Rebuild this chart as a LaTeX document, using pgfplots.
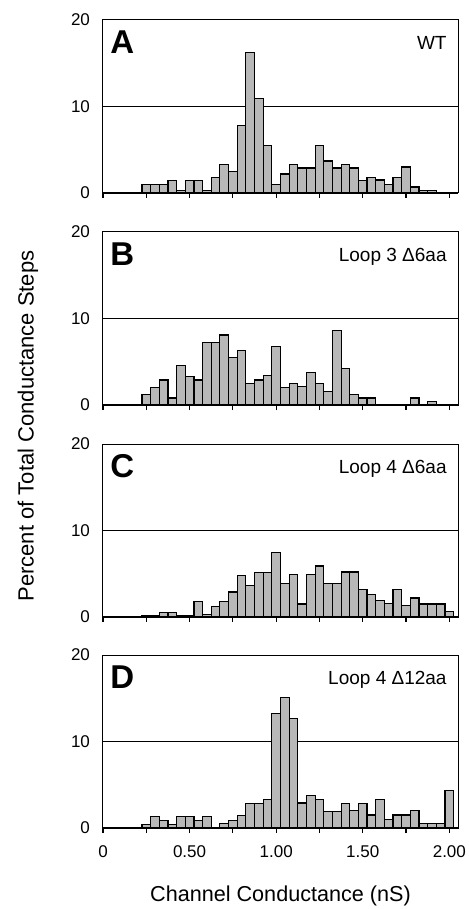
\documentclass[border=0pt]{standalone}
\usepackage{fontspec}
\setmainfont{Liberation Sans}
\usepackage{pgfplots}
\pgfplotsset{compat=1.18}

\definecolor{barfill}{gray}{0.72}

\pgfplotsset{
  panel/.style={
    scale only axis,
    width=177.5pt, height=86.5pt,
    xmin=0, xmax=2.05, ymin=0, ymax=20,
    xtick={0,0.25,...,2.0},
    ytick={0,10,20},
    yticklabels={0,10,20},
    xticklabels={},
    xtick pos=bottom, ytick pos=left,
    x tick style={black, line width=0.6pt},
    xtick align=outside,
    major tick length=2.5pt,
    y tick style={draw=none},
    ymajorgrids,
    grid style={black, line width=0.5pt},
    axis line style={line width=0.5pt},
    tick label style={font=\fontsize{8.5}{10}\selectfont},
    yticklabel style={xshift=-3pt},
    clip=false,
  },
  bars/.style={ybar, bar width=0.05, draw=black, line width=0.6pt, fill=barfill},
  base/.style={black, line width=1.1pt, sharp plot, forget plot},
}

\newcommand{\letter}[1]{\node[anchor=north west, inner sep=0pt, font=\bfseries\fontsize{16.5}{18}\selectfont] at ([xshift=3.5pt, yshift=-5pt]rel axis cs:0,1) {#1};}
\newcommand{\tag}[1]{\node[anchor=north east, inner sep=0pt, font=\fontsize{9.5}{11}\selectfont] at ([xshift=-5.5pt, yshift=-8pt]rel axis cs:1,1) {#1};}

\begin{document}
\begin{tikzpicture}
\path[use as bounding box] (-51.5pt,10pt) rectangle (183pt,-444.5pt);

% A
\begin{axis}[panel, at={(0,0)}, anchor=north west]
\addplot[bars] coordinates {
(0.25,1.0) (0.30,1.0) (0.35,1.0) (0.40,1.4) (0.45,0.3) (0.50,1.4) (0.55,1.4) (0.60,0.3)
(0.65,1.8) (0.70,3.3) (0.75,2.5) (0.80,7.8) (0.85,16.2) (0.90,10.9) (0.95,5.5) (1.00,1.0)
(1.05,2.2) (1.10,3.3) (1.15,2.9) (1.20,2.9) (1.25,5.5) (1.30,3.7) (1.35,2.9) (1.40,3.3)
(1.45,2.9) (1.50,1.4) (1.55,1.8) (1.60,1.5) (1.65,1.0) (1.70,1.8) (1.75,3.0) (1.80,0.7)
(1.85,0.3) (1.90,0.3)};
\addplot[base] coordinates {(0,0) (2.05,0)};
\letter{A}
\tag{WT}
\end{axis}

% B
\begin{axis}[panel, at={(0,-106pt)}, anchor=north west]
\addplot[bars] coordinates {
(0.25,1.2) (0.30,2.0) (0.35,2.9) (0.40,0.8) (0.45,4.6) (0.50,3.3) (0.55,2.9) (0.60,7.2)
(0.65,7.2) (0.70,8.1) (0.75,5.5) (0.80,6.3) (0.85,2.5) (0.90,2.9) (0.95,3.4) (1.00,6.8)
(1.05,2.0) (1.10,2.5) (1.15,2.1) (1.20,3.8) (1.25,2.5) (1.30,1.6) (1.35,8.6) (1.40,4.2)
(1.45,1.2) (1.50,0.8) (1.55,0.8) (1.80,0.8) (1.90,0.4)};
\addplot[base] coordinates {(0,0) (2.05,0)};
\letter{B}
\tag{Loop 3 Δ6aa}
\end{axis}

% C
\begin{axis}[panel, at={(0,-212pt)}, anchor=north west]
\addplot[bars] coordinates {
(0.25,0.2) (0.30,0.2) (0.35,0.5) (0.40,0.5) (0.45,0.2) (0.50,0.2) (0.55,1.8) (0.60,0.3)
(0.65,1.2) (0.70,1.8) (0.75,2.9) (0.80,4.8) (0.85,3.6) (0.90,5.1) (0.95,5.1) (1.00,7.5)
(1.05,3.9) (1.10,4.9) (1.15,1.5) (1.20,4.9) (1.25,5.9) (1.30,3.9) (1.35,3.9) (1.40,5.2)
(1.45,5.2) (1.50,3.2) (1.55,2.6) (1.60,1.9) (1.65,1.6) (1.70,3.2) (1.75,1.3) (1.80,2.2)
(1.85,1.5) (1.90,1.5) (1.95,1.5) (2.00,0.6)};
\addplot[base] coordinates {(0,0) (2.05,0)};
\letter{C}
\tag{Loop 4 Δ6aa}
\end{axis}

% D
\begin{axis}[panel, at={(0,-317.5pt)}, anchor=north west,
  xticklabels={0,,0.50,,1.00,,1.50,,2.00},
  xticklabel style={yshift=-3pt},
  xlabel={Channel Conductance (nS)},
  xlabel style={font=\fontsize{10.8}{13}\selectfont, yshift=-7pt}]
\addplot[bars] coordinates {
(0.25,0.4) (0.30,1.3) (0.35,0.9) (0.40,0.4) (0.45,1.3) (0.50,1.3) (0.55,0.9) (0.60,1.3)
(0.70,0.5) (0.75,0.9) (0.80,1.4) (0.85,2.8) (0.90,2.8) (0.95,3.3) (1.00,13.2) (1.05,15.1)
(1.10,12.7) (1.15,2.9) (1.20,3.8) (1.25,3.3) (1.30,1.9) (1.35,1.9) (1.40,2.8) (1.45,2.0)
(1.50,2.8) (1.55,1.5) (1.60,3.3) (1.65,1.0) (1.70,1.5) (1.75,1.5) (1.80,2.0) (1.85,0.5)
(1.90,0.5) (1.95,0.5) (2.00,4.3)};
\addplot[base] coordinates {(0,0) (2.05,0)};
\letter{D}
\tag{Loop 4 Δ12aa}
\end{axis}

\node[rotate=90, font=\fontsize{11}{13}\selectfont] at (-37.5pt,-203pt) {Percent of Total Conductance Steps};
\end{tikzpicture}
\end{document}
